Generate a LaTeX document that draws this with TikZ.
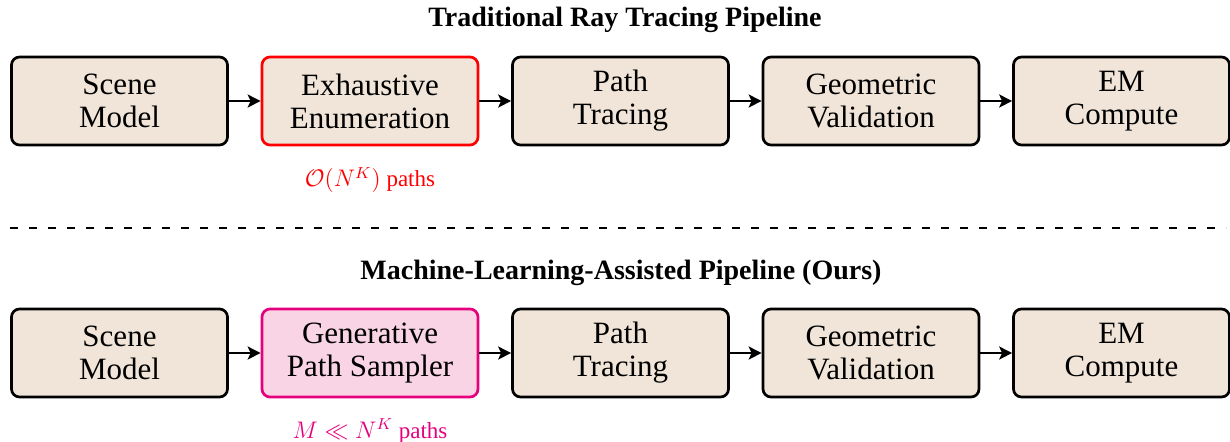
\documentclass[tikz,border=0pt]{standalone}
\usepackage{amsmath}
\usepackage{amsfonts}
\usepackage{xcolor}
\usepackage{fontspec}
\setmainfont{Liberation Serif}
\usepackage{tikz}
\usetikzlibrary{calc}
\usetikzlibrary{arrows.meta}

\definecolor{stagefill}{RGB}{240,229,216}
\definecolor{samplerfill}{RGB}{249,212,229}
\definecolor{samplerline}{RGB}{230,0,126}

\begin{document}
\begin{tikzpicture}[x=0.5pt, y=-0.5pt]
                \tikzstyle{stage}  = [rectangle, rounded corners=4pt, draw, line width=1.35pt, fill=stagefill, minimum width=108pt, minimum height=44pt, inner sep=2pt, align=center, font=\fontsize{15.5}{16.5}\selectfont]
                \tikzstyle{heading} = [font=\bfseries\fontsize{14}{17}\selectfont]
                \tikzstyle{cost} = [font=\fontsize{11.5}{13}\selectfont]
                \tikzstyle{flow} = [-{Stealth[length=6.5pt, width=6.5pt, inset=1.5pt]}, line width=1.1pt]
                \useasboundingbox (0, 0) rectangle (1230, 441);
                %%Traditional
                \node [heading](title1) at (625, 20) {Traditional Ray Tracing Pipeline};
                \node [stage](scene1) at (119.5, 101) {Scene\\Model};
                \node [stage, draw=red](enum) at ($(scene1) + (250.5, 0)$) {Exhaustive\\Enumeration};
                \node [stage](trace1) at ($(enum) + (250.5, 0)$) {Path\\Tracing};
                \node [stage](valid1) at ($(trace1) + (250.5, 0)$) {Geometric\\Validation};
                \node [stage](em1) at ($(valid1) + (250.5, 0)$) {EM\\Compute};
                \node [cost, text=red](cost1) at ($(enum) + (0, 79)$) {$\mathcal{O}(N^K)$ paths};
                %%Separator
                \coordinate (sepl) at (10, 228);
                \coordinate (sepr) at (1226, 228);
                \draw [line width=1.4pt, dash pattern=on 3.75pt off 5.75pt] (sepl)--(sepr);
                %%Ours
                \node [heading](title2) at (621, 273) {Machine-Learning-Assisted Pipeline (Ours)};
                \node [stage](scene2) at (119.5, 353) {Scene\\Model};
                \node [stage, draw=samplerline, fill=samplerfill](sampler) at ($(scene2) + (250.5, 0)$) {Generative\\Path Sampler};
                \node [stage](trace2) at ($(sampler) + (250.5, 0)$) {Path\\Tracing};
                \node [stage](valid2) at ($(trace2) + (250.5, 0)$) {Geometric\\Validation};
                \node [stage](em2) at ($(valid2) + (250.5, 0)$) {EM\\Compute};
                \node [cost, text=samplerline](cost2) at ($(sampler) + (0, 78)$) {$M \ll N^K$ paths};
                %%Edges
                \draw [flow] (scene1)--(enum);
                \draw [flow] (enum)--(trace1);
                \draw [flow] (trace1)--(valid1);
                \draw [flow] (valid1)--(em1);
                \draw [flow] (scene2)--(sampler);
                \draw [flow] (sampler)--(trace2);
                \draw [flow] (trace2)--(valid2);
                \draw [flow] (valid2)--(em2);
\end{tikzpicture}
\end{document}
